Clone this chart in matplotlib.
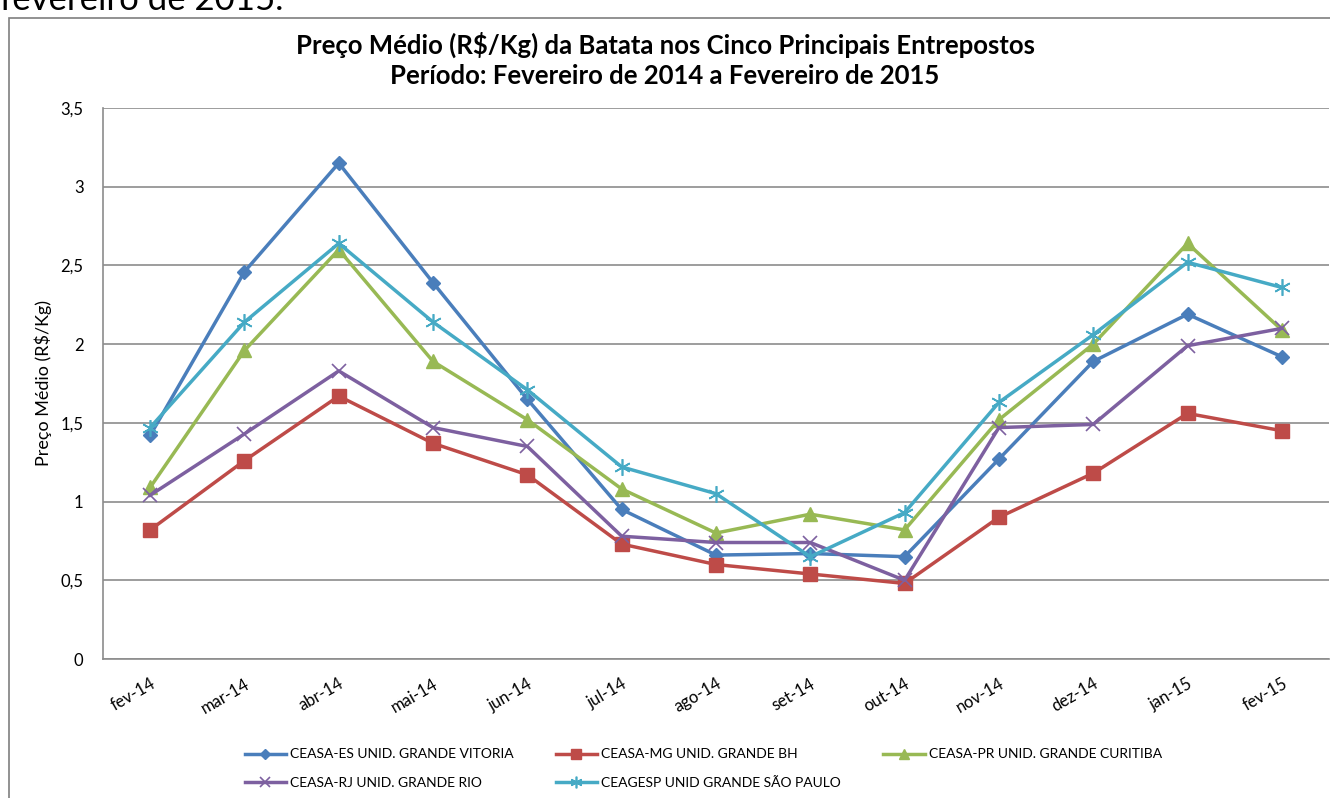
import matplotlib.pyplot as plt
from matplotlib.patches import Rectangle

#---- data ----#
months = ['fev-14', 'mar-14', 'abr-14', 'mai-14', 'jun-14', 'jul-14', 'ago-14',
          'set-14', 'out-14', 'nov-14', 'dez-14', 'jan-15', 'fev-15']

es_vitoria = [1.42, 2.46, 3.15, 2.39, 1.65, 0.95, 0.66, 0.67, 0.65, 1.27, 1.89, 2.19, 1.92]
mg_bh      = [0.82, 1.26, 1.67, 1.37, 1.17, 0.73, 0.60, 0.54, 0.48, 0.90, 1.18, 1.56, 1.45]
pr_curitiba = [1.09, 1.96, 2.60, 1.89, 1.52, 1.08, 0.80, 0.92, 0.82, 1.52, 2.00, 2.64, 2.09]
rj_rio     = [1.04, 1.43, 1.83, 1.47, 1.35, 0.78, 0.74, 0.74, 0.50, 1.47, 1.49, 1.99, 2.10]
sp_ceagesp = [1.47, 2.14, 2.64, 2.14, 1.71, 1.22, 1.05, 0.65, 0.93, 1.63, 2.06, 2.52, 2.36]

labels = ['CEASA-ES UNID. GRANDE VITORIA', 'CEASA-MG UNID. GRANDE BH',
          'CEASA-PR UNID. GRANDE CURITIBA', 'CEASA-RJ UNID. GRANDE RIO',
          'CEAGESP UNID GRANDE SÃO PAULO']

#---- style ----#
plt.rcParams['font.family'] = ['Lato', 'DejaVu Sans']
grid_c = '#8c8c8c'
c_es, c_mg, c_pr, c_rj, c_sp = '#4a7ebb', '#be4b48', '#98b954', '#7d60a0', '#46aac5'
lw = 2.5

fig = plt.figure(figsize=(13.3, 7.98), dpi=100)
ax = fig.add_axes([103/1330, 1-659/798, 1226/1330, 551/798])

x = range(len(months))
l_es, = ax.plot(x, es_vitoria, color=c_es, lw=lw, marker='D', ms=7, label=labels[0])
l_mg, = ax.plot(x, mg_bh, color=c_mg, lw=lw, marker='s', ms=10, label=labels[1])
l_pr, = ax.plot(x, pr_curitiba, color=c_pr, lw=lw, marker='^', ms=10, label=labels[2])
l_rj, = ax.plot(x, rj_rio, color=c_rj, lw=lw, marker='x', ms=10, mew=1.2, label=labels[3])
l_sp, = ax.plot(x, sp_ceagesp, color=c_sp, lw=lw, marker=(6, 2, 0), ms=12, mew=1.2, label=labels[4])

ax.set_xlim(-0.5, len(months)-0.5)
ax.set_ylim(0, 3.5)
ax.set_yticks([0, 0.5, 1, 1.5, 2, 2.5, 3, 3.5])
ax.set_yticklabels(['0', '0,5', '1', '1,5', '2', '2,5', '3', '3,5'], fontsize=12)
ax.set_xticks(list(x))
ax.set_xticklabels(months, rotation=30, ha='right', rotation_mode='anchor', fontsize=12)
ax.tick_params(axis='y', length=0, pad=14)
ax.tick_params(axis='x', length=0, pad=12)
ax.yaxis.grid(True, color=grid_c, lw=1.2)
ax.set_axisbelow(True)
for s in ['top', 'right']:
    ax.spines[s].set_visible(False)
for s in ['left', 'bottom']:
    ax.spines[s].set_color(grid_c)
    ax.spines[s].set_linewidth(1.2)

ax.set_ylabel('Preço Médio (R$/Kg)', fontsize=13, labelpad=6)

#---- titles ----#
fig.text(0.5, 1-45/798, 'Preço Médio (R$/Kg) da Batata nos Cinco Principais Entrepostos',
         ha='center', va='center', fontsize=18.5, fontweight='bold')
fig.text(0.5, 1-76/798, 'Período: Fevereiro de 2014 a Fevereiro de 2015',
         ha='center', va='center', fontsize=18.5, fontweight='bold')
# text of the page cut off above the chart
fig.text(0.0, 1.0, 'fevereiro de 2015.', ha='left', va='center', fontsize=25)

#---- outer frame ----#
fig.add_artist(Rectangle((9/1330, -0.01), 1.0, 1-18/798+0.01, transform=fig.transFigure,
                         fill=False, ec='#7f7f7f', lw=1.2))

#---- legend (row-major order: ES, MG, PR / RJ, SP) ----#
handles = [l_es, l_rj, l_mg, l_sp, l_pr]
leg = fig.legend(handles=handles, labels=[h.get_label() for h in handles],
                 loc='upper left', bbox_to_anchor=(232/1330, 1-736/798), ncol=3,
                 frameon=False, fontsize=10, handlelength=3, handletextpad=0.3,
                 columnspacing=3.0, labelspacing=1.2, markerscale=0.7)

plt.savefig('out.png', dpi=100)
